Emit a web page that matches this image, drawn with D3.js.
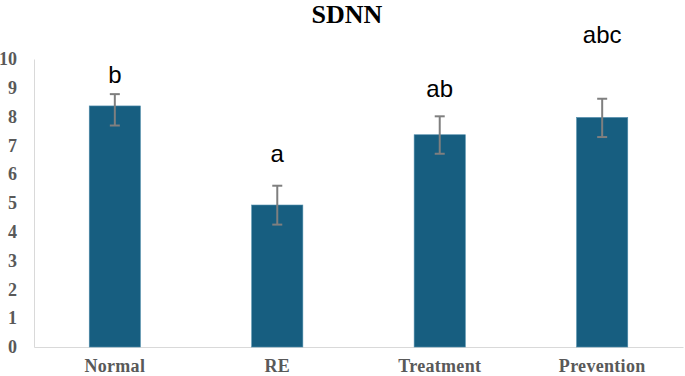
<!DOCTYPE html>
<html>
<head>
<meta charset="utf-8">
<script src="https://cdn.jsdelivr.net/npm/d3@7"></script>
<style>
  body { margin: 0; background: #fff; }
</style>
</head>
<body>
<div id="chart"></div>
<script>
// data
const groups = ['Normal', 'RE', 'Treatment', 'Prevention'];
const means = [8.37, 4.93, 7.37, 7.97];
const errHigh = [8.78, 5.6, 8.01, 8.62];
const errLow = [7.69, 4.25, 6.71, 7.29];
const letters = ['b', 'a', 'ab', 'abc'];
const yTicks = [0, 1, 2, 3, 4, 5, 6, 7, 8, 9, 10];

const W = 685, H = 376;
const margin = { top: 59, right: 2, bottom: 29, left: 34 };
const width = W - margin.left - margin.right;
const height = H - margin.top - margin.bottom;

const svg = d3.select('#chart').append('svg')
    .attr('width', W)
    .attr('height', H)
    .append('g')
    .attr('transform', `translate(${margin.left},${margin.top})`);

const x = d3.scaleBand()
    .domain(groups)
    .range([0, width])
    .paddingInner(0.685)
    .paddingOuter(0.34);

const y = d3.scaleLinear()
    .domain([0, 10])
    .range([height, 0]);

// title
svg.append('text')
    .attr('x', 347 - margin.left)
    .attr('y', 23 - margin.top)
    .attr('text-anchor', 'middle')
    .style('font-family', '"Liberation Serif", "Times New Roman", serif')
    .style('font-weight', 'bold')
    .style('font-size', '26px')
    .text('SDNN');

// axes
const yAxis = svg.append('g')
    .call(d3.axisLeft(y).tickValues(yTicks).tickSize(0).tickPadding(17));
yAxis.select('.domain').attr('stroke', '#d9d9d9');
yAxis.selectAll('text')
    .style('font-family', '"Liberation Serif", "Times New Roman", serif')
    .style('font-weight', 'bold')
    .style('font-size', '18px')
    .style('fill', '#595959');

const xAxis = svg.append('g')
    .attr('transform', `translate(0,${height})`)
    .call(d3.axisBottom(x).tickSize(0).tickPadding(12));
xAxis.select('.domain').attr('stroke', '#d9d9d9');
xAxis.selectAll('text')
    .style('font-family', '"Liberation Serif", "Times New Roman", serif')
    .style('font-weight', 'bold')
    .style('font-size', '18px')
    .style('letter-spacing', '0.3px')
    .style('fill', '#595959');

// bars
svg.selectAll('.bar')
    .data(groups)
    .enter()
    .append('rect')
    .attr('class', 'bar')
    .attr('x', d => x(d))
    .attr('y', (d, i) => y(means[i]))
    .attr('width', x.bandwidth())
    .attr('height', (d, i) => height - y(means[i]))
    .attr('fill', '#175e80')
    .attr('stroke', '#4f8cab')
    .attr('stroke-width', 0.6);

// error bars
const capW = 10;
groups.forEach((g, i) => {
    const cx = x(g) + x.bandwidth() / 2;
    const eb = svg.append('g').attr('stroke', '#7f7f7f').attr('stroke-width', 2);
    eb.append('line')
        .attr('x1', cx).attr('x2', cx)
        .attr('y1', y(errHigh[i])).attr('y2', y(errLow[i]));
    eb.append('line')
        .attr('x1', cx - capW / 2).attr('x2', cx + capW / 2)
        .attr('y1', y(errHigh[i])).attr('y2', y(errHigh[i]));
    eb.append('line')
        .attr('x1', cx - capW / 2).attr('x2', cx + capW / 2)
        .attr('y1', y(errLow[i])).attr('y2', y(errLow[i]));
});

// significance letters
const letterY = [83, 162, 97, 43];
svg.selectAll('.sig')
    .data(letters)
    .enter()
    .append('text')
    .attr('class', 'sig')
    .attr('x', (d, i) => x(groups[i]) + x.bandwidth() / 2)
    .attr('y', (d, i) => letterY[i] - margin.top)
    .attr('text-anchor', 'middle')
    .style('font-family', '"Liberation Sans", Arial, sans-serif')
    .style('font-size', '24px')
    .style('fill', '#000')
    .text(d => d);
</script>
</body>
</html>
